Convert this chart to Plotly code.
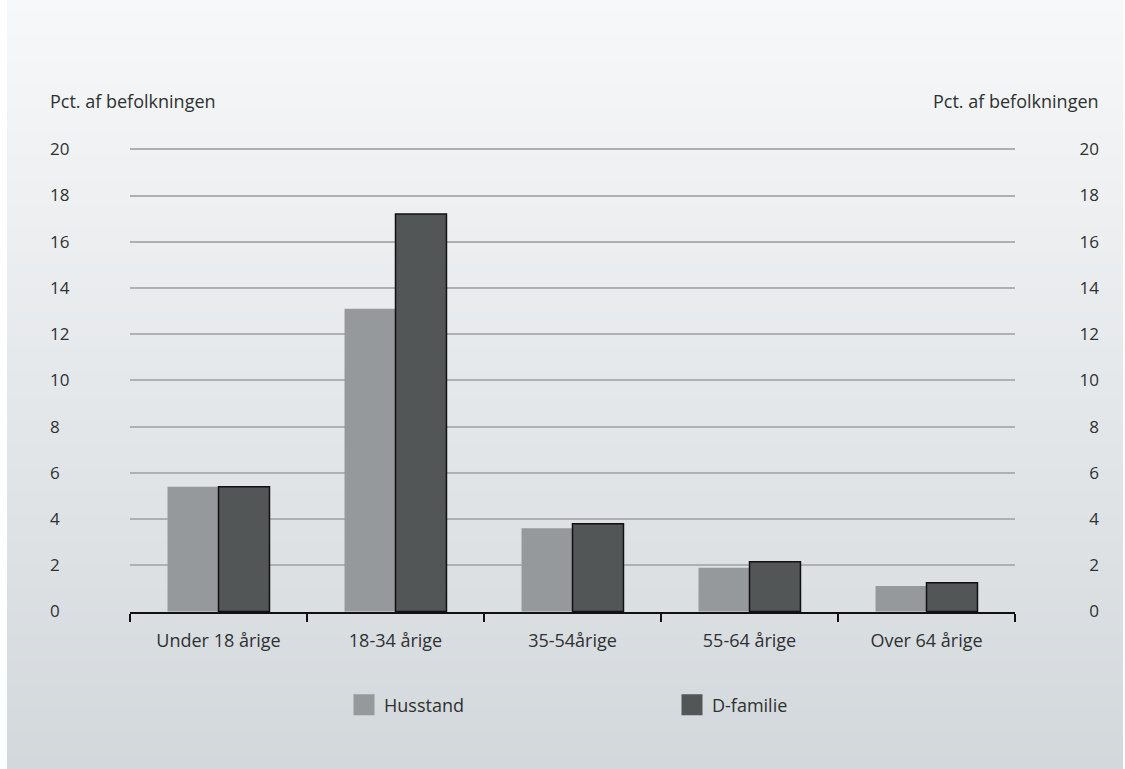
import plotly.graph_objects as go

categories = ["Under 18 årige", "18-34 årige", "35-54årige", "55-64 årige", "Over 64 årige"]
husstand = [5.4, 13.1, 3.6, 1.9, 1.1]
d_familie = [5.4, 17.2, 3.8, 2.15, 1.25]
y_ticks = [0, 2, 4, 6, 8, 10, 12, 14, 16, 18, 20]
axis_title = "Pct. af befolkningen"

W, H = 1125, 769
ML, MR, MT, MB = 40, 20, 147, 157
PW = W - ML - MR
PH = H - MT - MB

def px_x(px):
    return (px - ML) / PW

def px_y(py):
    return (H - MB - py) / PH

FONT = "Open Sans"
TXT = "#2e3132"
C_H = "#96999b"
C_D = "#525657"

fig = go.Figure()
fig.add_trace(go.Bar(x=categories, y=husstand, name="Husstand",
                     marker=dict(color=C_H, line=dict(width=0)), showlegend=False))
fig.add_trace(go.Bar(x=categories, y=d_familie, name="D-familie",
                     marker=dict(color=C_D, line=dict(color="#111111", width=1.5)), showlegend=False))
# legend entries (no data of their own)
fig.add_trace(go.Scatter(x=[None], y=[None], mode="markers", name="Husstand", yaxis="y2",
                         marker=dict(symbol="square", size=16, color=C_H, line=dict(color=C_H, width=5))))
fig.add_trace(go.Scatter(x=[None], y=[None], mode="markers", name="D-familie", yaxis="y2",
                         marker=dict(symbol="square", size=16, color=C_D, line=dict(color=C_D, width=5))))

# background gradient strips
shapes = []
n = 64
top = (247, 248, 249)
bot = (211, 216, 220)
for i in range(n):
    t = i / (n - 1)
    c = tuple(round(top[k] + (bot[k] - top[k]) * t) for k in range(3))
    y0 = H * i / n
    y1 = H * (i + 1) / n + 0.6
    shapes.append(dict(type="rect", xref="paper", yref="paper",
                       x0=px_x(7), x1=px_x(1123), y0=px_y(y1), y1=px_y(y0),
                       fillcolor="rgb(%d,%d,%d)" % c, line=dict(width=0), layer="below"))

YR = [-0.02, 20.1]

fig.update_layout(
    width=W, height=H,
    margin=dict(l=ML, r=MR, t=MT, b=MB, pad=0),
    paper_bgcolor="white", plot_bgcolor="rgba(0,0,0,0)",
    font=dict(family=FONT, size=18, color=TXT),
    barmode="group", bargap=0.424, bargroupgap=0,
    shapes=shapes,
    showlegend=True,
    hovermode=False,
    legend=dict(orientation="h", x=px_x(344), xanchor="left", y=px_y(705), yanchor="middle",
                entrywidth=283, entrywidthmode="pixels", bgcolor="rgba(0,0,0,0)",
                font=dict(size=18, color=TXT), itemclick=False, itemdoubleclick=False),
    xaxis=dict(domain=[px_x(130), px_x(1015)], type="category",
               showline=True, linecolor="#111111", linewidth=1.5,
               ticks="outside", tickson="boundaries", ticklen=8, tickcolor="#111111", tickwidth=1.5,
               showgrid=False, tickfont=dict(size=18, color=TXT), ticklabelstandoff=12,
               fixedrange=True),
    yaxis=dict(range=YR, tickvals=y_ticks, anchor="free", position=px_x(46),
               ticklabelposition="inside", ticklabeloverflow="allow", showline=False, ticks="",
               showgrid=True, gridcolor="#aeb0b2", gridwidth=1.5, zeroline=False,
               tickfont=dict(size=17, color=TXT), fixedrange=True),
    yaxis2=dict(range=YR, tickvals=y_ticks, overlaying="y", side="right", anchor="free",
                position=px_x(1102), ticklabelposition="inside", ticklabeloverflow="allow",
                showline=False, ticks="", showgrid=False, zeroline=False,
                tickfont=dict(size=17, color=TXT), fixedrange=True),
    annotations=[
        dict(text=axis_title, xref="paper", yref="paper", x=px_x(48), y=px_y(101),
             xanchor="left", yanchor="middle", showarrow=False, font=dict(size=18, color=TXT)),
        dict(text=axis_title, xref="paper", yref="paper", x=px_x(1101), y=px_y(101),
             xanchor="right", yanchor="middle", showarrow=False, font=dict(size=18, color=TXT)),
    ],
)

fig.write_html("out.html", config={"displayModeBar": False},
               post_script="document.body.style.margin='0px';")
